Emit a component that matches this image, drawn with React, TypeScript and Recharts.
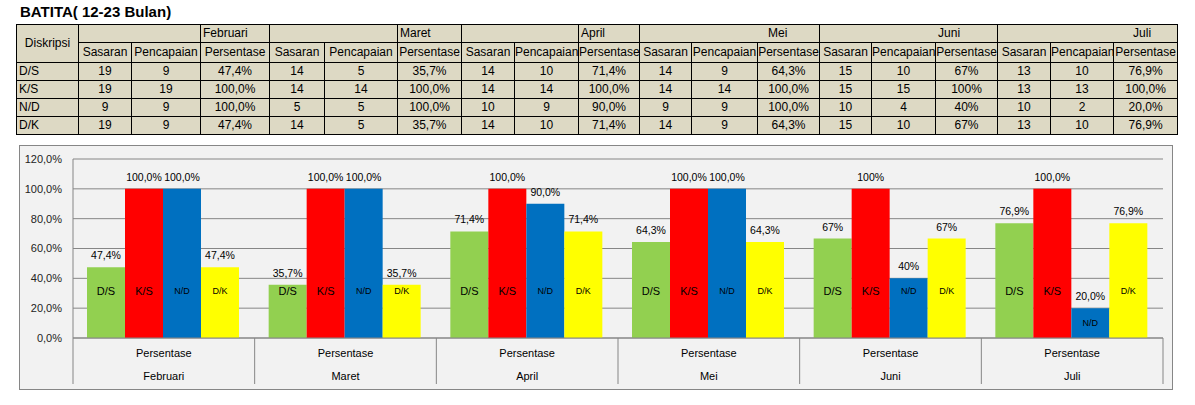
import { BarChart, Bar, XAxis, YAxis, CartesianGrid, LabelList } from "recharts";

const months = ["Februari", "Maret", "April", "Mei", "Juni", "Juli"];
const rowNames = ["D/S", "K/S", "N/D", "D/K"];

// table counts (Sasaran / Pencapaian) per month
const sasaranDS = [19, 14, 14, 14, 15, 13];
const pencapaianDS = [9, 5, 10, 9, 10, 10];
const sasaranKS = [19, 14, 14, 14, 15, 13];
const pencapaianKS = [19, 14, 14, 14, 15, 13];
const sasaranND = [9, 5, 10, 9, 10, 10];
const pencapaianND = [9, 5, 9, 9, 4, 2];
const sasaranDK = [19, 14, 14, 14, 15, 13];
const pencapaianDK = [9, 5, 10, 9, 10, 10];

// persentase per month
const persenDS = [47.4, 35.7, 71.4, 64.3, 66.7, 76.9];
const persenKS = [100, 100, 100, 100, 100, 100];
const persenND = [100, 100, 90, 100, 40, 20];
const persenDK = [47.4, 35.7, 71.4, 64.3, 66.7, 76.9];
const decimals = [1, 1, 1, 1, 0, 1];

const yTicks = [0, 20, 40, 60, 80, 100, 120];

const fmt = (v: number, d: number) => v.toFixed(d).replace(".", ",") + "%";

const CHART_W = 1152;
const CHART_H = 243;
const MARGIN = { top: 13, right: 9, bottom: 0, left: 0 };
const Y_W = 53;
const BAND_W = (CHART_W - MARGIN.left - MARGIN.right - Y_W) / months.length;

const chartData = months.map((m, i) => ({
  month: m,
  ds: persenDS[i],
  ks: persenKS[i],
  nd: persenND[i],
  dk: persenDK[i],
  dsLabel: fmt(persenDS[i], decimals[i]),
  ksLabel: fmt(persenKS[i], decimals[i]),
  ndLabel: fmt(persenND[i], decimals[i]),
  dkLabel: fmt(persenDK[i], decimals[i]),
}));

const tableRows = [
  { name: rowNames[0], sas: sasaranDS, pen: pencapaianDS, per: persenDS },
  { name: rowNames[1], sas: sasaranKS, pen: pencapaianKS, per: persenKS },
  { name: rowNames[2], sas: sasaranND, pen: pencapaianND, per: persenND },
  { name: rowNames[3], sas: sasaranDK, pen: pencapaianDK, per: persenDK },
];

const colWidths = [62, 53, 69, 69, 55, 73, 64, 53, 64, 61, 52, 66, 62, 52, 64, 62, 53, 63, 64];
const FONT = "'Liberation Sans', Arial, sans-serif";
const GRID = "#868686";

const cell: React.CSSProperties = {
  border: "1px solid #000",
  padding: 0,
  whiteSpace: "nowrap",
  overflow: "hidden",
  textAlign: "center",
  height: 17,
  lineHeight: "17px",
};

function innerLabel(name: string, size: number) {
  return (props: any) => {
    const vb = props.viewBox || props;
    const { x, y, width, height } = vb;
    const base = y + height;
    const cy = height > 40 ? base - 47 : y + height / 2;
    return (
      <text
        x={x + width / 2}
        y={cy}
        textAnchor="middle"
        dominantBaseline="central"
        fontSize={size}
        fill="#000"
        fontFamily={FONT}
      >
        {name}
      </text>
    );
  };
}

function MonthTick(props: any) {
  const { x, y, payload, index } = props;
  const left = x - BAND_W / 2;
  return (
    <g>
      <line x1={left} y1={y} x2={left} y2={y + 46} stroke={GRID} />
      {index === months.length - 1 && (
        <line x1={left + BAND_W} y1={y} x2={left + BAND_W} y2={y + 46} stroke={GRID} />
      )}
      <text x={x} y={y + 15} textAnchor="middle" dominantBaseline="central" fontSize={11} fill="#000">
        Persentase
      </text>
      <text x={x} y={y + 38} textAnchor="middle" dominantBaseline="central" fontSize={11} fill="#000">
        {payload.value}
      </text>
    </g>
  );
}

function DataTable() {
  const headerPad = [null, null, null, 128, 118, 135];
  return (
    <table
      style={{
        position: "absolute",
        left: 16,
        top: 24,
        borderCollapse: "collapse",
        tableLayout: "fixed",
        width: 1161,
        background: "#DDD9C4",
        fontSize: 12,
        fontFamily: FONT,
        color: "#000",
      }}
    >
      <colgroup>
        {colWidths.map((w, i) => (
          <col key={i} style={{ width: w }} />
        ))}
      </colgroup>
      <tbody>
        <tr>
          <td rowSpan={2} style={{ ...cell }}>Diskripsi</td>
          {months.map((m, i) =>
            headerPad[i] === null ? (
              [
                <td key={m + "b"} colSpan={2} style={cell}></td>,
                <td key={m} style={{ ...cell, textAlign: "left", paddingLeft: 2 }}>{m}</td>,
              ]
            ) : (
              <td key={m} colSpan={3} style={{ ...cell, textAlign: "left", paddingLeft: headerPad[i] as number }}>
                {m}
              </td>
            )
          )}
        </tr>
        <tr>
          {months.map((m) => [
            <td key={m + "s"} style={{ ...cell, height: 19, lineHeight: "19px" }}>Sasaran</td>,
            <td key={m + "p"} style={{ ...cell, height: 19, lineHeight: "19px" }}>Pencapaian</td>,
            <td key={m + "r"} style={{ ...cell, height: 19, lineHeight: "19px" }}>Persentase</td>,
          ])}
        </tr>
        {tableRows.map((r) => (
          <tr key={r.name}>
            <td style={{ ...cell, textAlign: "left", paddingLeft: 2 }}>{r.name}</td>
            {months.map((m, i) => [
              <td key={m + "s"} style={cell}>{r.sas[i]}</td>,
              <td key={m + "p"} style={cell}>{r.pen[i]}</td>,
              <td key={m + "r"} style={cell}>{fmt(r.per[i], decimals[i])}</td>,
            ])}
          </tr>
        ))}
      </tbody>
    </table>
  );
}

export default function App() {
  return (
    <div
      style={{
        position: "fixed",
        left: 0,
        top: 0,
        width: 1195,
        height: 405,
        background: "#fff",
        fontFamily: FONT,
      }}
    >
      <div
        style={{
          position: "absolute",
          left: 20,
          top: 3,
          fontSize: 15,
          fontWeight: "bold",
          color: "#000",
        }}
      >
        BATITA( 12-23 Bulan)
      </div>
      <DataTable />
      <div
        style={{
          position: "absolute",
          left: 20,
          top: 146,
          width: CHART_W,
          height: CHART_H,
          background: "#F2F2F2",
          outline: "1px solid " + GRID,
        }}
      >
        <BarChart
          width={CHART_W}
          height={CHART_H}
          data={chartData}
          margin={MARGIN}
          barCategoryGap={14}
          barGap={0}
          style={{ fontFamily: FONT }}
        >
          <CartesianGrid vertical={false} stroke={GRID} />
          <YAxis
            width={Y_W}
            domain={[0, 120]}
            ticks={yTicks}
            tickFormatter={(v: number) => fmt(v, 1)}
            tickLine={false}
            tickMargin={5}
            axisLine={{ stroke: GRID }}
            tick={{ fontSize: 11, fill: "#222" }}
          />
          <XAxis
            dataKey="month"
            height={51}
            interval={0}
            tickSize={0}
            tickMargin={0}
            tickLine={false}
            axisLine={{ stroke: GRID }}
            tick={<MonthTick />}
          />
          <Bar dataKey="ds" fill="#92D050" isAnimationActive={false}>
            <LabelList dataKey="dsLabel" position="top" offset={8} fontSize={10.5} fill="#000" />
            <LabelList dataKey="ds" content={innerLabel("D/S", 11)} />
          </Bar>
          <Bar dataKey="ks" fill="#FF0000" isAnimationActive={false}>
            <LabelList dataKey="ksLabel" position="top" offset={8} fontSize={10.5} fill="#000" />
            <LabelList dataKey="ks" content={innerLabel("K/S", 11)} />
          </Bar>
          <Bar dataKey="nd" fill="#0070C0" isAnimationActive={false}>
            <LabelList dataKey="ndLabel" position="top" offset={8} fontSize={10.5} fill="#000" />
            <LabelList dataKey="nd" content={innerLabel("N/D", 9)} />
          </Bar>
          <Bar dataKey="dk" fill="#FFFF00" isAnimationActive={false}>
            <LabelList dataKey="dkLabel" position="top" offset={8} fontSize={10.5} fill="#000" />
            <LabelList dataKey="dk" content={innerLabel("D/K", 9)} />
          </Bar>
        </BarChart>
      </div>
    </div>
  );
}
